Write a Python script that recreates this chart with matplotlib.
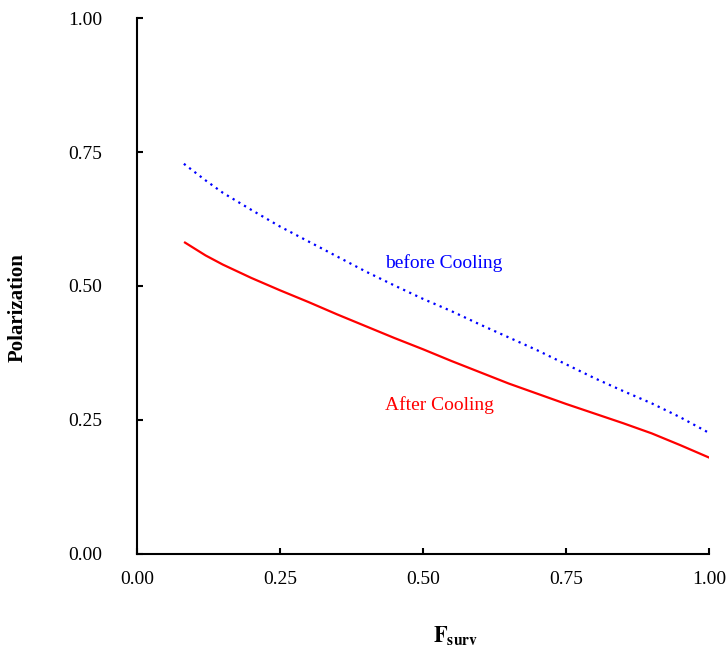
import numpy as np
import matplotlib
matplotlib.use("Agg")
import matplotlib.pyplot as plt

plt.rcParams['font.family'] = ['Liberation Serif', 'DejaVu Serif']
plt.rcParams['mathtext.fontset'] = 'stix'

# 冷却前 (蓝色点线)
x_before = [0.082, 0.12, 0.15, 0.20, 0.25, 0.30, 0.35, 0.40, 0.45, 0.50,
            0.55, 0.60, 0.65, 0.70, 0.75, 0.80, 0.85, 0.90, 0.95, 1.0]
p_before = [0.728, 0.697, 0.674, 0.642, 0.611, 0.583, 0.555, 0.527, 0.501, 0.476,
            0.453, 0.428, 0.404, 0.380, 0.354, 0.328, 0.304, 0.281, 0.255, 0.226]

# 冷却后 (红色实线)
x_after = [0.084, 0.12, 0.15, 0.20, 0.25, 0.30, 0.35, 0.40, 0.45, 0.50,
           0.55, 0.60, 0.65, 0.70, 0.75, 0.80, 0.85, 0.90, 0.95, 1.0]
p_after = [0.581, 0.557, 0.540, 0.515, 0.492, 0.470, 0.447, 0.425, 0.403, 0.382,
           0.360, 0.339, 0.318, 0.299, 0.280, 0.262, 0.244, 0.225, 0.203, 0.180]

ticks = [0.0, 0.25, 0.5, 0.75, 1.0]
tick_labels = ["0.00", "0.25", "0.50", "0.75", "1.00"]

fig = plt.figure(figsize=(7.27, 6.5), dpi=100)
ax = fig.add_axes([0.1884, 0.1477, 0.9752 - 0.1884, 0.9723 - 0.1477])

ax.plot(x_before, p_before, color='blue', lw=1.6, linestyle=(0, (1, 2)))
ax.plot(x_after, p_after, color='red', lw=1.6)

ax.text(0.434, 0.543, "before Cooling", color='blue', fontsize=14, va='center')
ax.text(0.434, 0.278, "After Cooling", color='red', fontsize=14, va='center')

ax.set_xlim(0, 1)
ax.set_ylim(0, 1)
ax.set_xticks(ticks)
ax.set_xticklabels(tick_labels)
ax.set_yticks(ticks)
ax.set_yticklabels(tick_labels)
ax.tick_params(direction='in', length=4, width=1.5, labelsize=14)
ax.tick_params(axis='y', pad=25)
ax.tick_params(axis='x', pad=12)

for side in ['top', 'right']:
    ax.spines[side].set_visible(False)
for side in ['left', 'bottom']:
    ax.spines[side].set_linewidth(1.5)

fig.text(456 / 727, 1 - 636 / 650, r"$\mathbf{F_{surv}}$", fontsize=16,
         ha='center', va='center')
fig.text(18 / 727, 1 - 308 / 650, "Polarization", fontsize=15, fontweight='bold',
         rotation=90, ha='center', va='center')

fig.savefig("out.png", dpi=100)
